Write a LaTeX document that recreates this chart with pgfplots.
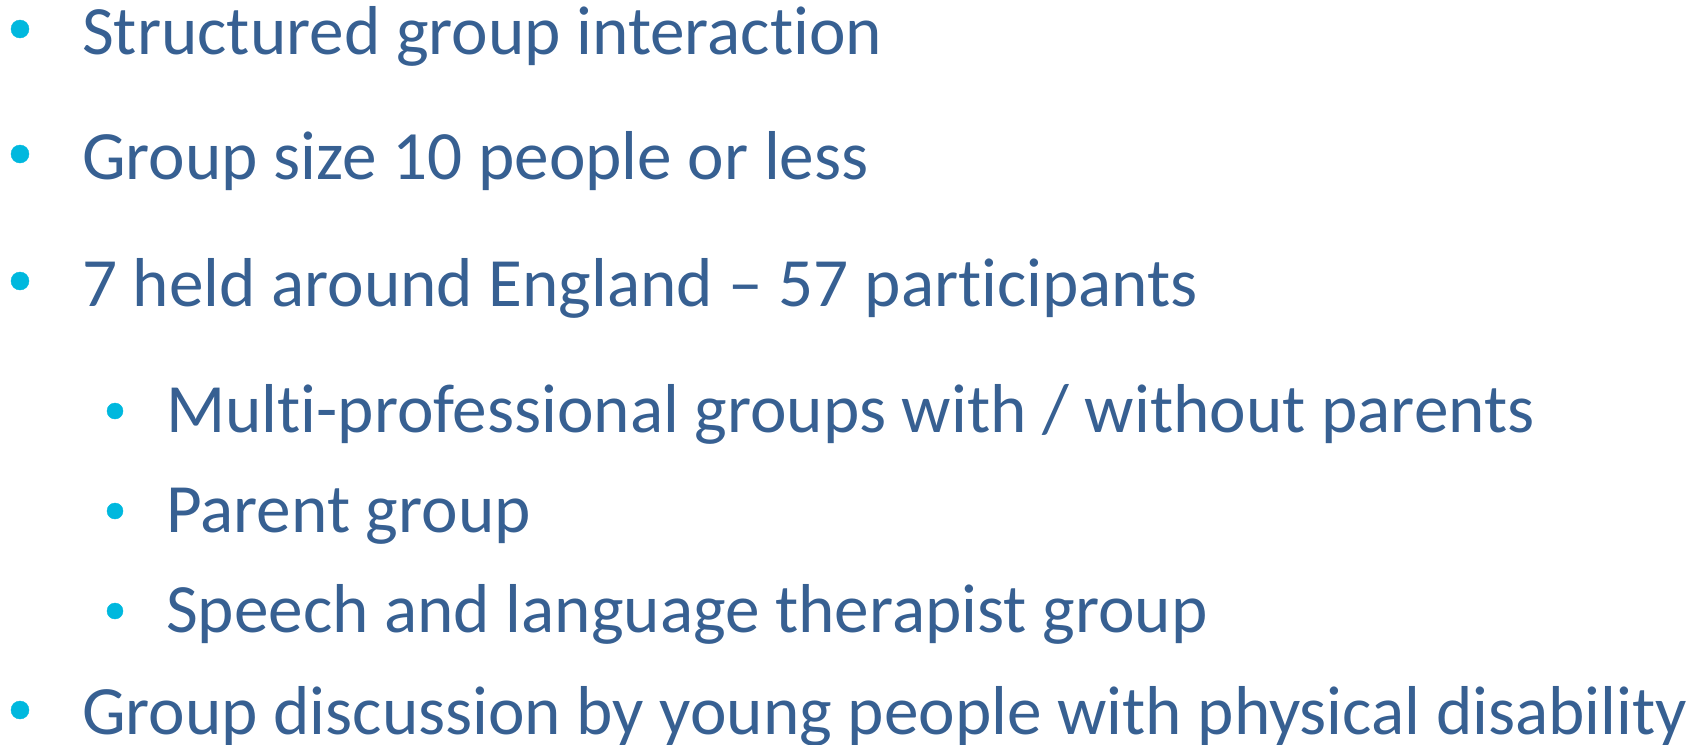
\documentclass[border=0pt]{standalone}
\usepackage{pgfplots}
\pgfplotsset{compat=1.18}
\usepackage{fontspec}
\setmainfont{Carlito}[Ligatures={NoCommon}]
\definecolor{txt}{HTML}{376092}
\definecolor{bul}{HTML}{00B8DE}
\tikzset{bt/.style={font=\fontsize{69.2}{80}\selectfont, text=txt, inner sep=0pt, anchor=base west}}
\begin{document}
\begin{tikzpicture}
\begin{axis}[
  width=1704pt, height=744pt, scale only axis,
  xmin=0, xmax=1704, ymin=0, ymax=744, y dir=reverse,
  hide axis, clip=false,
]
% level 1 bullets
\addplot[only marks, mark=*, mark size=9pt, color=bul] coordinates {(20,29) (20,154) (20,281) (20,710)};
% level 2 bullets
\addplot[only marks, mark=*, mark size=8pt, color=bul] coordinates {(115,411) (115,511) (115,611)};
\node[bt] at (axis cs:82,54) {Structured group interaction};
\node[bt] at (axis cs:82,179) {Group size 10 people or less};
\node[bt] at (axis cs:82,306) {7 held around England -- 57 participants};
\node[bt] at (axis cs:166,432) {Multi-professional groups with / without parents};
\node[bt] at (axis cs:166,532) {Parent group};
\node[bt] at (axis cs:166,632) {Speech and language therapist group};
\node[bt] at (axis cs:82,734) {Group discussion by young people with physical disability};
\end{axis}
\pgfresetboundingbox
\path (0,0) rectangle (1704pt,744pt);
\end{tikzpicture}
\end{document}
